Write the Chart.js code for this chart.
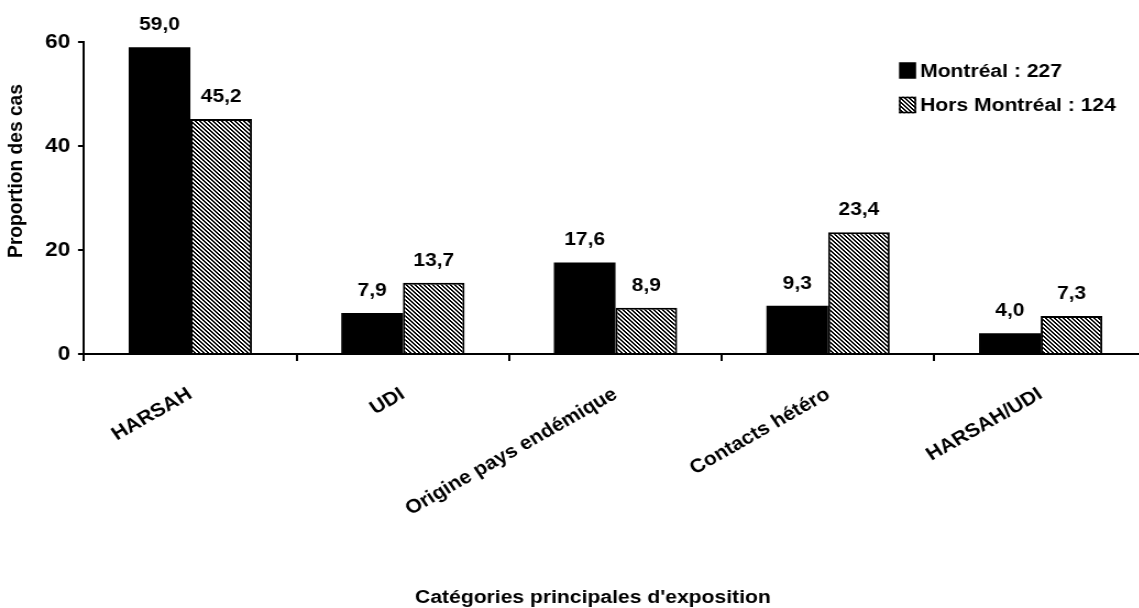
<!DOCTYPE html>
<html lang="fr">
<head>
<meta charset="utf-8">
<title>Catégories principales d'exposition</title>
<script src="https://cdn.jsdelivr.net/npm/chart.js@4/dist/chart.umd.min.js"></script>
<style>
  html, body { margin: 0; padding: 0; background: #fff; overflow: hidden; }
  #wrap { width: 1139px; height: 608px; overflow: hidden; }
  /* the drawing is laid out a little narrow and widened horizontally */
  canvas { display: block; transform: scaleX(1.1); transform-origin: 0 0; }
</style>
</head>
<body>
<div id="wrap"><canvas id="chart" width="1055" height="608"></canvas></div>
<script>
// Catégories d'exposition et proportions (%) des cas
const categories = ['HARSAH', 'UDI', 'Origine pays endémique', 'Contacts hétéro', 'HARSAH/UDI'];
const montreal = [59.0, 7.9, 17.6, 9.3, 4.0];
const horsMontreal = [45.2, 13.7, 8.9, 23.4, 7.3];
const seriesLabels = ['Montréal : 227', 'Hors Montréal : 124'];
const yTicks = [0, 20, 40, 60];
const yTitle = 'Proportion des cas';
const xTitle = "Catégories principales d'exposition";

const FONT = '"Liberation Sans", Arial, Helvetica, sans-serif';
const FS_TEXT = 19.2;   // titles, legend, category labels
const FS_VALUE = 19;    // value labels on bars
const FS_TICK = 20.5;   // y-axis numbers

// Diagonal hatch fill (\\\) for the second series
function makeHatch() {
  const c = document.createElement('canvas');
  c.width = 4; c.height = 4;
  const g = c.getContext('2d');
  g.fillStyle = '#fff';
  g.fillRect(0, 0, 4, 4);
  g.fillStyle = '#000';
  for (let i = 0; i < 4; i++) {
    g.fillRect(i, i, 1, 1);
    g.fillRect((i + 1) % 4, i, 1, 1);
  }
  return g.createPattern(c, 'repeat');
}
const hatch = makeHatch();

const fmt = v => v.toFixed(1).replace('.', ',');

// Value labels above each bar
const valueLabels = {
  id: 'valueLabels',
  afterDatasetsDraw(chart) {
    const ctx = chart.ctx;
    ctx.save();
    ctx.font = 'bold ' + FS_VALUE + 'px ' + FONT;
    ctx.fillStyle = '#000';
    ctx.textAlign = 'center';
    ctx.textBaseline = 'alphabetic';
    chart.data.datasets.forEach((ds, di) => {
      chart.getDatasetMeta(di).data.forEach((bar, i) => {
        ctx.fillText(fmt(ds.data[i]), bar.x, bar.y - 17);
      });
    });
    ctx.restore();
  }
};

// Axis titles and legend box
const decorations = {
  id: 'decorations',
  afterDraw(chart) {
    const ctx = chart.ctx;
    ctx.save();
    ctx.fillStyle = '#000';
    ctx.font = 'bold ' + FS_TEXT + 'px ' + FONT;
    // y-axis title
    ctx.save();
    ctx.translate(15.2, 171);
    ctx.rotate(-Math.PI / 2);
    ctx.textAlign = 'center';
    ctx.textBaseline = 'middle';
    ctx.fillText(yTitle, 0, 0);
    ctx.restore();
    // x-axis title
    ctx.textAlign = 'center';
    ctx.textBaseline = 'alphabetic';
    ctx.fillText(xTitle, 539, 603);
    // legend
    const rows = [70.5, 105];
    chart.data.datasets.forEach((ds, i) => {
      const y = rows[i];
      const bx = 817.3, w = 15.5, h = 16.5;
      ctx.fillStyle = ds.backgroundColor;
      ctx.fillRect(bx, y - h / 2, w, h);
      if (ds.borderWidth) {
        ctx.strokeStyle = '#000';
        ctx.lineWidth = 1.5;
        ctx.strokeRect(bx + 0.75, y - h / 2 + 0.75, w - 1.5, h - 1.5);
      }
      ctx.fillStyle = '#000';
      ctx.textAlign = 'left';
      ctx.textBaseline = 'middle';
      ctx.fillText(ds.label, 836.4, y + 1);
    });
    ctx.restore();
  }
};

new Chart(document.getElementById('chart'), {
  type: 'bar',
  data: {
    labels: categories,
    datasets: [
      { label: seriesLabels[0], data: montreal, backgroundColor: '#000', borderWidth: 0 },
      { label: seriesLabels[1], data: horsMontreal, backgroundColor: hatch, borderColor: '#000', borderWidth: 2 }
    ]
  },
  options: {
    responsive: false,
    animation: false,
    events: [],
    layout: { padding: { left: 0, top: 42, right: 12.3, bottom: 0 } },
    datasets: { bar: { categoryPercentage: 0.58, barPercentage: 1.0 } },
    plugins: { legend: { display: false }, tooltip: { enabled: false }, title: { display: false } },
    scales: {
      x: {
        offset: true,
        afterFit(scale) { scale.height = 254; },
        grid: { offset: true, drawOnChartArea: false, drawTicks: true, tickLength: 7, color: '#000', lineWidth: 2 },
        border: { display: true, color: '#000', width: 2 },
        ticks: {
          autoSkip: false, maxRotation: 32, minRotation: 32, padding: 22,
          color: '#000', font: { family: FONT, size: FS_TEXT, weight: 'bold' }
        }
      },
      y: {
        min: 0, max: 60,
        afterFit(scale) { scale.width = 76.4; },
        afterBuildTicks(scale) { scale.ticks = yTicks.map(v => ({ value: v })); },
        grid: { drawOnChartArea: false, drawTicks: true, tickLength: 5.5, color: '#000', lineWidth: 2 },
        border: { display: true, color: '#000', width: 2 },
        ticks: { padding: 7, color: '#000', font: { family: FONT, size: FS_TICK, weight: 'bold' } }
      }
    }
  },
  plugins: [valueLabels, decorations]
});
</script>
</body>
</html>
